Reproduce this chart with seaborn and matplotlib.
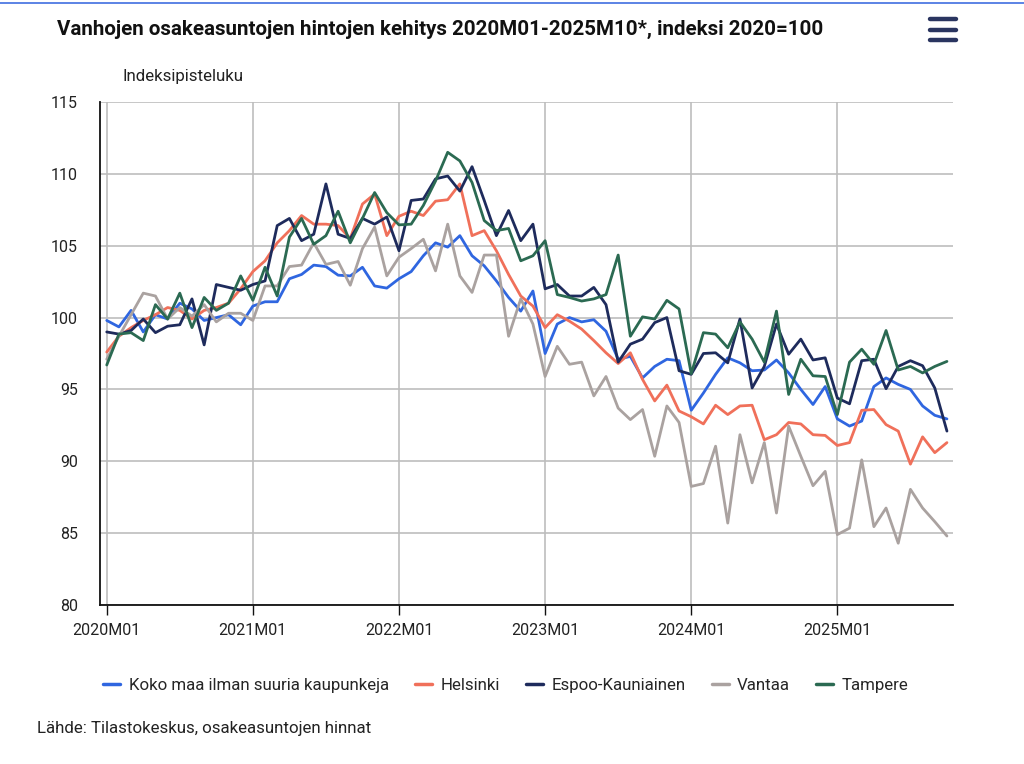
import numpy as np
import pandas as pd
import matplotlib
matplotlib.use("Agg")
import matplotlib.pyplot as plt
import seaborn as sns
from matplotlib.lines import Line2D

# Monthly index 2020M01 - 2025M10 (2020=100)
months = [f"{y}M{m:02d}" for y in range(2020, 2026) for m in range(1, 13)][:70]
year_ticks = ["2020M01", "2021M01", "2022M01", "2023M01", "2024M01", "2025M01"]
y_ticks = [80, 85, 90, 95, 100, 105, 110, 115]

koko_maa = [99.8, 99.35, 100.5, 99.0, 100.2, 99.9, 101.0, 100.6, 99.8, 100.0, 100.2, 99.5,
            100.8, 101.1, 101.1, 102.7, 103.0, 103.65, 103.55, 102.95, 102.9, 103.5, 102.2, 102.05,
            102.7, 103.2, 104.3, 105.2, 104.9, 105.7, 104.3, 103.6, 102.55, 101.4, 100.45, 101.85,
            97.5, 99.55, 100.0, 99.7, 99.85, 99.05, 97.1, 97.3, 95.8, 96.6, 97.1, 97.0,
            93.55, 94.75, 96.05, 97.2, 96.85, 96.3, 96.35, 97.05, 96.15, 95.0, 93.95, 95.2,
            92.95, 92.45, 92.8, 95.2, 95.8, 95.35, 95.0, 93.85, 93.2, 92.95]
helsinki = [97.6, 98.7, 99.3, 99.8, 100.2, 100.7, 100.5, 99.9, 100.5, 100.7, 101.0, 102.0,
            103.2, 103.95, 105.2, 106.05, 107.1, 106.5, 106.5, 106.4, 105.5, 107.9, 108.6, 105.7,
            107.05, 107.4, 107.1, 108.1, 108.2, 109.3, 105.7, 106.05, 104.65, 103.0, 101.5, 100.8,
            99.3, 100.2, 99.75, 99.2, 98.4, 97.55, 96.8, 97.55, 95.7, 94.2, 95.3, 93.5,
            93.1, 92.6, 93.9, 93.25, 93.85, 93.9, 91.5, 91.85, 92.7, 92.6, 91.85, 91.8,
            91.1, 91.3, 93.55, 93.6, 92.55, 92.1, 89.8, 91.7, 90.6, 91.3]
espoo = [99.0, 98.85, 99.1, 99.9, 98.95, 99.4, 99.5, 101.3, 98.1, 102.3, 102.1, 101.9,
         102.3, 102.55, 106.4, 106.9, 105.35, 105.8, 109.3, 105.8, 105.5, 106.9, 106.5, 107.0,
         104.65, 108.15, 108.25, 109.65, 109.85, 108.8, 110.5, 108.15, 105.7, 107.45, 105.35, 106.5,
         102.0, 102.3, 101.5, 101.5, 102.1, 100.9, 96.9, 98.15, 98.5, 99.65, 100.0, 96.3,
         96.05, 97.5, 97.55, 96.85, 99.9, 95.1, 96.6, 99.55, 97.45, 98.5, 97.05, 97.2,
         94.4, 94.0, 97.0, 97.1, 95.05, 96.6, 97.0, 96.65, 95.1, 92.1]
vantaa = [97.1, 98.7, 100.2, 101.7, 101.5, 99.9, 100.7, 100.1, 100.9, 99.7, 100.3, 100.3,
          99.8, 102.2, 102.2, 103.55, 103.65, 105.2, 103.7, 103.9, 102.25, 104.8, 106.3, 102.9,
          104.2, 104.8, 105.45, 103.25, 106.5, 102.9, 101.75, 104.35, 104.35, 98.7, 101.3, 99.55,
          95.9, 98.0, 96.75, 96.9, 94.55, 95.9, 93.7, 92.9, 93.6, 90.35, 93.85, 92.7,
          88.25, 88.45, 91.05, 85.7, 91.85, 88.5, 91.3, 86.4, 92.45, 90.35, 88.3, 89.3,
          84.9, 85.35, 90.1, 85.45, 86.75, 84.3, 88.05, 86.75, 85.8, 84.8]
tampere = [96.7, 98.85, 98.95, 98.4, 100.9, 99.9, 101.7, 99.3, 101.4, 100.5, 101.0, 102.9,
           101.2, 103.5, 101.5, 105.6, 106.9, 105.1, 105.7, 107.4, 105.2, 106.9, 108.7, 107.3,
           106.45, 106.5, 107.8, 109.5, 111.5, 110.9, 109.4, 106.75, 106.05, 106.2, 103.95, 104.3,
           105.35, 101.6, 101.4, 101.15, 101.3, 101.6, 104.35, 98.7, 100.05, 99.9, 101.2, 100.6,
           96.1, 98.95, 98.85, 97.9, 99.7, 98.5, 96.9, 100.45, 94.65, 97.1, 95.95, 95.9,
           93.25, 96.9, 97.8, 96.75, 99.1, 96.35, 96.6, 96.15, 96.6, 96.95]

series = {
    "Koko maa ilman suuria kaupunkeja": koko_maa,
    "Helsinki": helsinki,
    "Espoo-Kauniainen": espoo,
    "Vantaa": vantaa,
    "Tampere": tampere,
}
colors = ["#2f66e0", "#f0705a", "#1e2b5c", "#aaa2a0", "#2b6a52"]

rows = []
for name, vals in series.items():
    for i, v in enumerate(vals):
        rows.append({"idx": i, "kuukausi": months[i], "alue": name, "arvo": v})
df = pd.DataFrame(rows)

sns.set_theme(style="white")
plt.rcParams["font.family"] = ["Roboto", "DejaVu Sans"]

fig = plt.figure(figsize=(10.24, 7.64), dpi=100)
ax = fig.add_axes([0.0977, 0.2081, 0.833, 0.6584])

sns.lineplot(data=df, x="idx", y="arvo", hue="alue", palette=colors,
             linewidth=2.0, ax=ax, legend=False)

ax.set_xlim(-0.55, 69.5)
ax.set_ylim(80, 115)
ax.set_yticks(y_ticks)
ax.set_yticklabels([str(t) for t in y_ticks], fontsize=11.5, color="#222222")
ax.set_xticks([months.index(t) for t in year_ticks])
ax.set_xticklabels(year_ticks, fontsize=11.5, color="#222222")
ax.set_xlabel("")
ax.set_ylabel("")
ax.grid(True, color="#bdbdbd", linewidth=1.2)
ax.set_axisbelow(True)
for s in ["top", "right"]:
    ax.spines[s].set_visible(False)
for s in ["left", "bottom"]:
    ax.spines[s].set_color("#111111")
    ax.spines[s].set_linewidth(1.3)
ax.tick_params(axis="x", bottom=True, length=7, width=1.0, color="#111111", pad=6)
ax.tick_params(axis="y", left=False, pad=10)

handles = [Line2D([0], [0], color=c, linewidth=2.5) for c in colors]
fig.legend(handles, list(series.keys()), loc="center", bbox_to_anchor=(0.494, 0.103),
           ncol=5, frameon=False, fontsize=12.2, handlelength=1.0, handletextpad=0.5,
           columnspacing=1.55)

fig.text(0.056, 0.961, "Vanhojen osakeasuntojen hintojen kehitys 2020M01-2025M10*, indeksi 2020=100",
         fontsize=14.8, fontweight="bold", color="#111111", va="center")
fig.text(0.12, 0.9, "Indeksipisteluku", fontsize=12.2, color="#222222", va="center")
fig.text(0.036, 0.047, "Lähde: Tilastokeskus, osakeasuntojen hinnat", fontsize=12.2,
         color="#222222", va="center")

# top border line and menu icon
fig.add_artist(Line2D([0, 1], [0.996, 0.996], color="#3f6ee0", linewidth=1.2))
for yy in [0.975, 0.961, 0.947]:
    fig.add_artist(Line2D([0.908, 0.934], [yy, yy], color="#2a3560", linewidth=3.2,
                          solid_capstyle="round"))

fig.savefig("out.png", dpi=100)
